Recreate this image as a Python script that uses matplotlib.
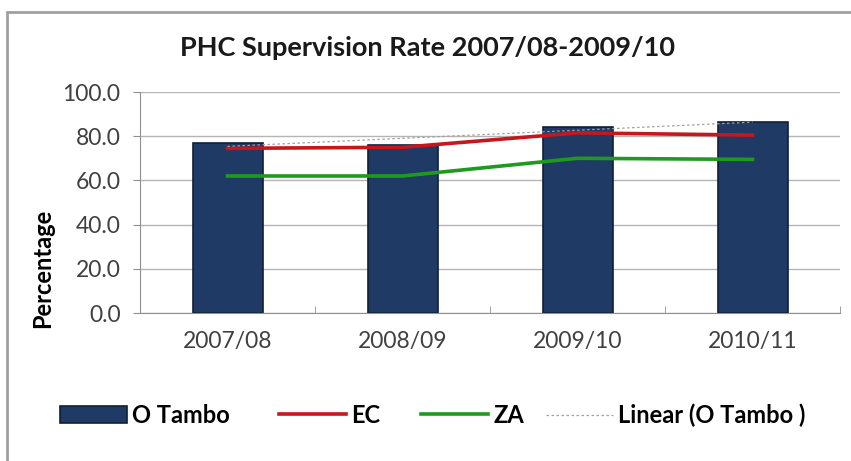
import numpy as np
import matplotlib

matplotlib.use("Agg")
import matplotlib.pyplot as plt
from matplotlib.patches import Rectangle

plt.rcParams["font.family"] = ["Lato", "DejaVu Sans"]

years = ["2007/08", "2008/09", "2009/10", "2010/11"]
o_tambo = [77.0, 76.0, 84.0, 86.5]
ec = [74.5, 75.0, 81.5, 80.5]
za = [62.0, 62.0, 70.0, 69.5]
yticks = [0, 20, 40, 60, 80, 100]

fig = plt.figure(figsize=(8.51, 4.61), dpi=100)
ax = fig.add_axes([140 / 851, 1 - 313 / 461, 700 / 851, 221 / 461])

x = np.arange(len(years))
h_bar = ax.bar(x, o_tambo, width=0.4, color="#1f3a64", edgecolor="#0f1f38", linewidth=1.2,
               label="O Tambo", zorder=2)
h_ec, = ax.plot(x, ec, color="#c8161d", linewidth=2.6, label="EC", zorder=3)
h_za, = ax.plot(x, za, color="#1e9a1e", linewidth=2.6, label="ZA", zorder=3)

# linear trend of O Tambo
k, b = np.polyfit(x, o_tambo, 1)
h_lin, = ax.plot(x, k * x + b, color="#a0a0a0", linestyle=(0, (2, 2)), linewidth=0.9,
                 label="Linear (O Tambo )", zorder=4)

ax.set_xlim(-0.5, 3.5)
ax.set_ylim(0, 100)
ax.set_yticks(yticks)
ax.set_yticklabels([f"{v:.1f}" for v in yticks])
ax.set_xticks(x)
ax.set_xticklabels(years)
ax.set_xticks(np.arange(-0.5, 4.0, 1.0), minor=True)
ax.tick_params(axis="x", which="major", length=0, pad=13, labelsize=16.5, labelcolor="#404040")
ax.tick_params(axis="x", which="minor", length=5, color="#909090", direction="in")
ax.tick_params(axis="y", length=5, color="#909090", pad=9, labelsize=16.5, labelcolor="#404040")
ax.grid(axis="y", color="#b5b5b5", linewidth=1, zorder=0)
ax.set_axisbelow(True)
for s in ["top", "right"]:
    ax.spines[s].set_visible(False)
for s in ["left", "bottom"]:
    ax.spines[s].set_color("#909090")

ax.set_ylabel("Percentage", fontsize=17, fontweight="bold", color="black")
ax.yaxis.set_label_coords(-0.123, 0.2)

fig.text(427 / 851, 1 - 48 / 461, "PHC Supervision Rate 2007/08-2009/10",
         ha="center", va="center", fontsize=19.5, fontweight="bold", color="#1a1a1a")

# legend entries placed one by one (Excel spacing is uneven)
leg_y = 1 - 415 / 461
for h, lab, x0 in [(h_bar, "O Tambo", 60), (h_ec, "EC", 279),
                   (h_za, "ZA", 421), (h_lin, "Linear (O Tambo )", 546)]:
    lg = fig.legend([h], [lab], loc="center left", bbox_to_anchor=(x0 / 851, leg_y),
                    frameon=False, handlelength=2.85, handletextpad=0.2,
                    borderpad=0, borderaxespad=0, prop={"size": 17, "weight": "bold"})

# chart frame (left and top edges visible)
fig.patches.append(Rectangle((7 / 851, -0.05), 1.0, 1 - 12 / 461 + 0.05,
                             transform=fig.transFigure, fill=False,
                             edgecolor="#a0a0a0", linewidth=2))

fig.savefig("out.png", dpi=100)
